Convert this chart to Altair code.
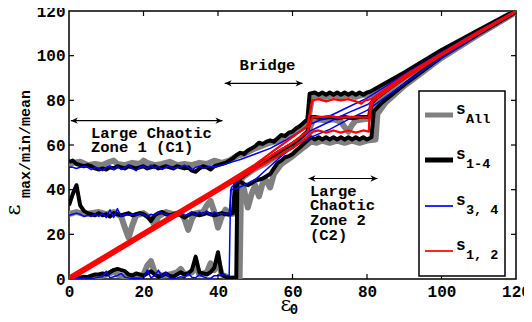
import altair as alt
import pandas as pd

# ---------------- data ----------------
X_TICKS = [0, 20, 40, 60, 80, 100, 120]
Y_TICKS = [0, 20, 40, 60, 80, 100, 120]
INNER_TICKS = [20, 40, 60, 80, 100]

# s_All (gray)
GRAY_MAX = [(0,51),(1,52),(3,52.5),(5,51),(7,51.5),(9,51),(11,52.5),(12,53),(13,51.5),(15,51),(17,52),(19,51.5),(20,53),(21,52),(23,51),(25,51.5),(27,52.5),(29,51),(31,51.5),(33,51),(35,52),(37,51.5),(39,53),(41,52),(43,53),(45,55),(47,56),(50,58.5),(53,60.5),(56,62),(59,64.5),(62,67),(64,69),(65.3,82),(67,82),(69,81.5),(71,82.5),(73,81.5),(75,82.5),(77,81.5),(79,82.5),(81.5,82.5),(83,84),(90,91.5),(100,101.5),(110,111),(120,120)]
GRAY_MEAN = [(0,29),(2,30),(4,29),(6,29.5),(8,30),(10,29),(12,30),(14,28),(15,23),(16,18.5),(17,24),(18,28.5),(20,29.5),(22,27),(23,24),(24,28),(26,30),(28,29),(30,29.5),(31,27),(32,22),(33,27),(34,29.5),(36,30),(37,33),(38,35),(39,30),(40,23),(41,28),(42,31),(43,29),(45,29.5),(45.7,44),(47,46),(50,49.5),(53,52),(56,55.5),(59,59),(62,62),(64,65),(65.5,71),(67,71.5),(69,71),(71,71.5),(73,70.5),(74,68),(75,66),(76,69),(77,71),(79,71.5),(81.5,72),(82.5,79.5),(90,90),(100,100.5),(110,110.3),(120,120)]
GRAY_MIN = [(0,0.3),(3,0.5),(6,0.5),(9,1.5),(11,2.5),(12,3.5),(13,2),(15,1),(17,1.5),(19,1),(20,2),(21,6),(22,8),(23,3),(25,1.5),(27,2),(29,3),(30,4.5),(31,2),(33,3),(34,6),(35,2),(37,3),(38,7),(39,4),(40,8),(41,2),(43,0.5),(45.8,0.3),(46.2,44),(47,40),(48,32),(49,38),(50,42),(51,37),(52,43),(53,44),(54,41),(55,47),(57,51.5),(60,55),(63,59),(65,61.5),(66.5,61),(68,62),(70,61),(72,62),(74,61),(76,62),(78,61),(80,62),(82.3,62.5),(82.8,74),(85,79),(90,86.5),(100,99),(110,109.5),(120,119.5)]

# s_1-4 (black): values at x = 0, 1, 2, ... then explicit tail points
BLACK_MAX_Y = [52.5,53,51.5,51,50.5,51,50.5,49.5,49,49.5,49,50,49.5,50.5,50,49.5,50.5,50,49.5,50,50.5,49.5,50,50.5,49.5,50,50.5,50,49.5,50.5,50,49.5,50,48.5,48,49.5,50.5,50,49,50.5,51,51.5,52,53]
BLACK_MAX_TAIL = [(44,54),(45,55.5),(46,56.5),(47,56),(48,57.5),(49,58.5),(50,59.5),(51,61),(52,60.5),(53,61.5),(54,62),(55,61.5),(56,63),(57,64.5),(58,64),(59,65.5),(60,66),(61,67.5),(62,68.5),(63,70),(64,71.5),(64.6,83),(66,83.5),(67,82.5),(68,83.5),(69,82.5),(70,83.5),(71,82.5),(72,83.5),(73,82.5),(74,83.5),(75,82.5),(76,83.5),(77,82.5),(78,83.5),(79,82.5),(80,83.5),(81,84),(82,85),(90,92.5),(100,102.5),(110,111.5),(120,120.3)]
BLACK_MEAN_Y = [33,38,42,33,30.5,29.5,29,28.5,29.5,28.5,29,28,29.5,29,28.5,29,29.5,28.5,29,29.5,29,28,26,28.5,29.5,30,29,28.5,29,29.5,28.5,27.5,28.5,29.5,29,28.5,29,29.5,29,28.5,29,29.5,29,29,29.5]
BLACK_MEAN_TAIL = [(44.6,43),(46,45),(48,47.5),(50,50),(52,52.5),(54,54),(56,56.5),(58,58.5),(60,60.5),(62,63),(64,66),(64.8,72.5),(66,72.5),(68,72),(70,72.5),(72,72),(74,72.5),(76,72),(78,72.5),(80.5,72.5),(81.3,79),(82.5,81),(90,90.5),(100,101),(110,110.5),(120,120)]
BLACK_MIN_Y = [0.3,0.5,0.3,0.5,1,0.8,1.5,2,2,2.5,2,3,4,4.5,4,3.5,2,1.5,2.5,2,1.5,2.5,3.5,2,1,1.5,2.5,1.5,1,2,3,2,2.5,4,10,3,2.5,2,3,5,12,2,1,0.5,0.5]
BLACK_MIN_TAIL = [(44.9,0.5),(45.2,43),(46,43.5),(47,42.5),(48,42),(49,43),(50,44),(51,44.5),(52,45),(53,46),(54,47),(55,49.5),(56,52),(57,53),(58,54.5),(59,55),(60,56),(61,57.5),(62,59),(63,60.5),(64,62),(65,63.5),(66,62.5),(67,63.5),(68,62.5),(69,63.5),(70,62.5),(71,63.5),(72,62.5),(73,63.5),(74,62.5),(75,63.5),(76,62.5),(77,63.5),(78,62.5),(79,63.5),(80,62.5),(81.2,63.5),(81.8,75),(84,79),(90,87),(100,99.5),(110,109.8),(120,119.6)]

# s_3,4 (blue)
BLUE_MAX_Y = [50,50,49.5,50,50.5,50,49,50,49.5,48.5,50,50.5,49,50.5,49,50,51,49.5,48.5,50,50.5,49.5,51,49.5,50.5,49,50,50.5,49.5,50,50,51,50,49,50,50.5,49.5,50,50.5,50,50.5,51,51.5,52]
BLUE_MAX_TAIL = [(46,53.5),(50,56),(54,58.5),(58,62),(62,66),(65,69.5),(70,73),(75,77),(80,81),(90,91.5),(100,101.5),(110,111),(120,120.3)]
BLUE_MEAN_Y = [28.5,29,29.5,29,28,28.5,28,29,28,29.5,27.5,31,27.5,31.5,28,29,28.5,29,28.5,29.5,29,28,29,28.5,30,29.5,29,28.5,29,28,29.5,28.5,29,30,28.5,30,29,30.5,28.5,30,29,29.5,29,29.5]
BLUE_MEAN_TAIL = [(43.6,41),(46,45),(50,50),(55,56),(60,61),(65,66.5),(70,70.5),(75,74.5),(80,78),(90,89.5),(100,100.5),(110,110.5),(120,120)]
BLUE_MIN_Y = [0.3,0.3,0.5,0.3,0.5,0.5,0.3,0.5,0.8,1,3.5,0.5,1,1.5,2.5,0.8,0.5,0.3,0.5,0.3,0.5,4,0.5,1.5,4,1,3,0.5,0.3,0.5,1,0.5,2.5,0.8,0.5,2,1,0.5,0.3,1.5,1.5,2,1.5,1.5]
BLUE_MIN_TAIL = [(43.4,40),(45,40.5),(47,42),(50,44.5),(53,49),(57,55),(61,60),(65,63.5),(70,67),(75,71.5),(80,75.5),(90,87.5),(100,99),(110,109.5),(120,119.7)]

# s_1,2 (red)
RED_MAX = [(0,1.1),(20,21.0),(40,41.0),(50,51.3),(55,57.5),(60,63.5),(64,68.5),(65.3,80),(67,80.5),(69,79.5),(71,80.5),(73,80),(75,80.5),(77,79.5),(78.5,78.5),(79.5,80),(81,80.5),(82,81.5),(90,91),(100,101),(110,110.8),(120,120)]
RED_MEAN = [(0,0.2),(20,20.1),(40,40.1),(50,50.2),(55,56),(60,61),(64,66),(65.4,72.5),(67,72.5),(70,72.8),(73,72.3),(76,72.6),(79,72.3),(80.6,72.5),(81.5,79.5),(90,90.3),(100,100.5),(110,110.3),(120,119.8)]
RED_MIN = [(0.8,0),(20,19.2),(40,39.2),(50,49.2),(55,54),(60,58.5),(64,63.5),(65.5,66),(67,66.5),(69,65.5),(71,66.5),(73,65.5),(75,66.5),(77,65.5),(79,66.5),(80.5,66),(80.8,78.5),(82,80.3),(90,89.8),(100,100.2),(110,110),(120,119.7)]

# annotations
ANNOT_TEXT = ["Large Chaotic", "Zone 1 (C1)", "Bridge", "Large", "Chaotic", "Zone 2", "(C2)"]
ANNOT_X = [5.9, 5.9, 45.8, 64.7, 64.7, 64.7, 64.7]
ANNOT_Y = [65.3, 58.9, 95.8, 39.6, 33.0, 26.2, 19.6]
ARROW_X1 = [0.5, 41.8, 64.3]
ARROW_X2 = [41.2, 62.7, 82.8]
ARROW_Y = [70.9, 87.6, 45.0]

LEG_SUB = ["All", "1-4", "3, 4", "1, 2"]
LEG_COLORS = ["#808080", "#000000", "#0000ff", "#ff0000"]

# ---------------- chart ----------------
MONO = "Liberation Mono"
W, H = 447, 268
XS = alt.Scale(domain=[0, 120], nice=False, zero=False)
YS = alt.Scale(domain=[0, 120], nice=False, zero=False)
AXC = dict(ticks=False, tickSize=0, domain=False, grid=False, labelPadding=4,
           labelFont=MONO, labelFontWeight="bold", labelFontSize=16, labelColor="black",
           labelOverlap=False, labelBound=False, labelFlush=False)
AX_X = alt.Axis(values=X_TICKS, **AXC)
AX_Y = alt.Axis(values=Y_TICKS, **AXC)


def X(f):
    return alt.X(f, type="quantitative", scale=XS, axis=AX_X, title=None)


def Y(f):
    return alt.Y(f, type="quantitative", scale=YS, axis=AX_Y, title=None)


def frame(lines):
    rows = []
    for name, pts in lines.items():
        for i, (x, y) in enumerate(pts):
            rows.append({"line": name, "i": i, "x": x, "y": y})
    return pd.DataFrame(rows)


def grid(vals, tail):
    return [(i, v) for i, v in enumerate(vals)] + list(tail)


def lines_layer(lines, color, width):
    return alt.Chart(frame(lines)).mark_line(
        color=color, strokeWidth=width, clip=True, strokeJoin="round"
    ).encode(x=X("x"), y=Y("y"), detail="line:N", order="i:Q")


gray = lines_layer({"max": GRAY_MAX, "mean": GRAY_MEAN, "min": GRAY_MIN}, "#808080", 6)
black = lines_layer({"max": grid(BLACK_MAX_Y, BLACK_MAX_TAIL),
                     "mean": grid(BLACK_MEAN_Y, BLACK_MEAN_TAIL),
                     "min": grid(BLACK_MIN_Y, BLACK_MIN_TAIL)}, "#000000", 4)
blue = lines_layer({"max": grid(BLUE_MAX_Y, BLUE_MAX_TAIL),
                    "mean": grid(BLUE_MEAN_Y, BLUE_MEAN_TAIL),
                    "min": grid(BLUE_MIN_Y, BLUE_MIN_TAIL)}, "#0000ff", 1.5)
red = lines_layer({"max": RED_MAX, "mean": RED_MEAN, "min": RED_MIN}, "#ff0000", 2.3)

tdf = pd.DataFrame({"t": INNER_TICKS})
tick_layers = [
    alt.Chart(tdf).mark_rule(color="black", strokeWidth=1.2).encode(x=X("t"), y=alt.value(H), y2=alt.value(H - 5)),
    alt.Chart(tdf).mark_rule(color="black", strokeWidth=1.2).encode(x=X("t"), y=alt.value(0), y2=alt.value(5)),
    alt.Chart(tdf).mark_rule(color="black", strokeWidth=1.2).encode(y=Y("t"), x=alt.value(0), x2=alt.value(5)),
    alt.Chart(tdf).mark_rule(color="black", strokeWidth=1.2).encode(y=Y("t"), x=alt.value(W), x2=alt.value(W - 5)),
]

adf = pd.DataFrame({"x1": ARROW_X1, "x2": ARROW_X2, "y": ARROW_Y})
arrows = alt.Chart(adf).mark_rule(color="black", strokeWidth=1.2).encode(x=X("x1"), x2="x2:Q", y=Y("y"))
head_l = alt.Chart(adf).mark_point(shape="M 0 0 L 2 -0.9 L 1.4 0 L 2 0.9 Z", filled=True, color="black",
                                   size=49, opacity=1).encode(x=X("x1"), y=Y("y"))
head_r = alt.Chart(adf).mark_point(shape="M 0 0 L -2 -0.9 L -1.4 0 L -2 0.9 Z", filled=True, color="black",
                                   size=49, opacity=1).encode(x=X("x2"), y=Y("y"))

ndf = pd.DataFrame({"t": ANNOT_TEXT, "x": ANNOT_X, "y": ANNOT_Y})
annots = alt.Chart(ndf).mark_text(font=MONO, fontWeight="bold", fontSize=15.5, align="left",
                                  baseline="middle", color="black").encode(x=X("x"), y=Y("y"), text="t:N")

one = pd.DataFrame({"a": [0]})
legend_layers = [
    alt.Chart(one).mark_rect(fill="white", stroke="black", strokeWidth=1.5).encode(
        x=alt.value(350), x2=alt.value(436), y=alt.value(80), y2=alt.value(265))
]
sw_y = [104, 149, 195, 240]
sw_w = [5, 5, 1.7, 1.7]
for k in range(4):
    legend_layers.append(alt.Chart(one).mark_rule(color=LEG_COLORS[k], strokeWidth=sw_w[k]).encode(
        x=alt.value(356), x2=alt.value(384), y=alt.value(sw_y[k])))
    legend_layers.append(alt.Chart(one).mark_text(font=MONO, fontWeight="bold", fontSize=16, align="left",
                                                  baseline="middle", color="black").encode(
        x=alt.value(387), y=alt.value(sw_y[k] - 6), text=alt.value("s")))
    legend_layers.append(alt.Chart(one).mark_text(font=MONO, fontWeight="bold", fontSize=13.5, align="left",
                                                  baseline="middle", color="black").encode(
        x=alt.value(397), y=alt.value(sw_y[k] + 4), text=alt.value(LEG_SUB[k])))

title_layers = [
    alt.Chart(one).mark_text(font="DejaVu Serif", fontSize=21, align="center", baseline="middle",
                             angle=270, color="black").encode(x=alt.value(-55), y=alt.value(199), text=alt.value("ε")),
    alt.Chart(one).mark_text(font=MONO, fontWeight="bold", fontSize=15, align="center", baseline="middle",
                             angle=270, color="black").encode(x=alt.value(-44), y=alt.value(133), text=alt.value("max/min/mean")),
    alt.Chart(one).mark_text(font="DejaVu Serif", fontSize=21, align="center", baseline="middle",
                             color="black").encode(x=alt.value(217), y=alt.value(294), text=alt.value("ε")),
    alt.Chart(one).mark_text(font=MONO, fontWeight="bold", fontSize=14, align="center", baseline="middle",
                             color="black").encode(x=alt.value(225), y=alt.value(299), text=alt.value("0")),
]

chart = alt.layer(gray, black, blue, red, *tick_layers, arrows, head_l, head_r, annots,
                  *legend_layers, *title_layers).properties(
    width=W, height=H,
    autosize=alt.AutoSizeParams(type="none"),
    padding={"left": 61, "top": 3, "right": 8, "bottom": 35},
    background="white",
).configure_view(stroke="black", strokeWidth=1.5)

chart.save("out.html", embed_options={"renderer": "svg", "actions": False})
